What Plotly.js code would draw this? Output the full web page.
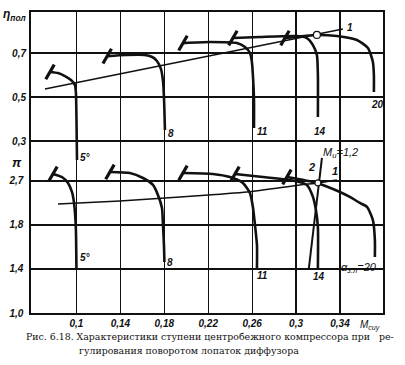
<!DOCTYPE html>
<html>
<head>
<meta charset="utf-8">
<script src="https://cdn.plot.ly/plotly-3.0.1.min.js"></script>
<style>html,body{margin:0;padding:0;background:#fff;}#chart{width:405px;height:365px;}</style>
</head>
<body>
<div id="chart"></div>
<script>
// ---- data (M_cu on x) ----
// Efficiency (eta_pol) curves, vane angles 5,8,11,14,20
const eta5_M  = [0.0759,0.0832,0.0895,0.095,0.0986,0.0995,0.1,0.1005];
const eta5_v  = [0.614,0.609,0.595,0.577,0.555,0.52,0.41,0.214];
const eta8_M  = [0.128,0.145,0.162,0.169,0.1733,0.177,0.1788,0.1797,0.1806];
const eta8_v  = [0.686,0.691,0.691,0.682,0.664,0.627,0.573,0.5,0.35];
const eta11_M = [0.197,0.2216,0.2462,0.2535,0.258,0.2598,0.2607,0.2617,0.2617];
const eta11_v = [0.745,0.75,0.745,0.727,0.7,0.659,0.6,0.486,0.359];
const eta14_M = [0.2425,0.2671,0.3008,0.3099,0.3154,0.319,0.3199,0.3199];
const eta14_v = [0.768,0.773,0.777,0.768,0.736,0.691,0.6,0.409];
const eta20_M = [0.2899,0.319,0.3372,0.3554,0.3655,0.37,0.3709,0.3709];
const eta20_v = [0.768,0.782,0.777,0.759,0.723,0.659,0.6,0.523];
const etaLine1_M = [0.0713,0.3427];
const etaLine1_v = [0.536,0.809];
const etaOp_M = [0.319];
const etaOp_v = [0.782];

// Pressure ratio (pi) curves
const pi5_M  = [0.0786,0.0868,0.0923,0.0959,0.0977,0.0986,0.0995,0.1];
const pi5_v  = [2.264,2.236,2.182,2.1,2.009,1.918,1.755,1.39];
const pi8_M  = [0.1305,0.1487,0.1606,0.1697,0.1742,0.1779,0.1788,0.1797,0.1801];
const pi8_v  = [2.282,2.273,2.227,2.164,2.073,1.955,1.8,1.618,1.464];
const pi11_M = [0.197,0.2243,0.2398,0.2516,0.258,0.2607,0.2626,0.2644,0.2644];
const pi11_v = [2.273,2.264,2.236,2.182,2.091,1.964,1.8,1.618,1.409];
const pi14_M = [0.2444,0.2699,0.2944,0.3099,0.3154,0.3181,0.3199,0.3199];
const pi14_v = [2.264,2.236,2.209,2.164,2.055,1.936,1.782,1.409];
const pi20_M = [0.2917,0.319,0.34,0.349,0.3582,0.3646,0.37,0.3718,0.3718];
const pi20_v = [2.236,2.182,2.1,2.055,2.0,1.964,1.845,1.664,1.509];
const piLine1_M = [0.0832,0.1396,0.1943,0.2553,0.3035,0.3199,0.3372];
const piLine1_v = [1.991,2.018,2.055,2.1,2.164,2.182,2.209];
const piLine2_M = [0.3236,0.3117];
const piLine2_v = [2.409,1.409];
const piOp_M = [0.3199];
const piOp_v = [2.182];

// tick labels
const xTickVals = [0.1,0.14,0.18,0.22,0.26,0.3,0.34];
const xTickText = ["0,1","0,14","0,18","0,22","0,26","0,3","0,34"];
const piTickVals = [1.0,1.4,1.8,2.2];
const piTickText = ["1,0","1,4","1,8","2,7"];
const etaTickVals = [0.3,0.5,0.7];
const etaTickText = ["0,3","0,5","0,7"];

// ---- traces ----
const ink = '#111';
const traces = [];
function curve(x, y, yaxis, w) {
  traces.push({x:x, y:y, yaxis:yaxis, type:'scatter', mode:'lines',
    line:{color:ink, width:w, shape:'spline', smoothing:0.6}, hoverinfo:'skip', showlegend:false});
}
const etaCurves = [[eta5_M,eta5_v],[eta8_M,eta8_v],[eta11_M,eta11_v],[eta14_M,eta14_v],[eta20_M,eta20_v]];
const piCurves  = [[pi5_M,pi5_v],[pi8_M,pi8_v],[pi11_M,pi11_v],[pi14_M,pi14_v],[pi20_M,pi20_v]];
etaCurves.forEach(c => curve(c[0], c[1], 'y2', 2.6));
piCurves.forEach(c => curve(c[0], c[1], 'y', 2.6));
curve(etaLine1_M, etaLine1_v, 'y2', 1.6);
curve(piLine1_M, piLine1_v, 'y', 1.6);
curve(piLine2_M, piLine2_v, 'y', 2.0);

// surge-limit hatch marks at the start of each curve
const hatch = {symbol:'line-ne', size:12, angle:-15, line:{color:ink, width:3.2}};
traces.push({x: etaCurves.map(c=>c[0][0]), y: etaCurves.map(c=>c[1][0]), yaxis:'y2',
  type:'scatter', mode:'markers', hoverinfo:'skip', showlegend:false, marker:hatch});
traces.push({x: piCurves.map(c=>c[0][0]), y: piCurves.map(c=>c[1][0]), yaxis:'y',
  type:'scatter', mode:'markers', hoverinfo:'skip', showlegend:false, marker:hatch});
// operating points
traces.push({x: etaOp_M, y: etaOp_v, yaxis:'y2', type:'scatter', mode:'markers', hoverinfo:'skip', showlegend:false,
  marker:{symbol:'circle', size:7, color:'#fff', line:{color:ink, width:1.2}}});
traces.push({x: piOp_M, y: piOp_v, yaxis:'y', type:'scatter', mode:'markers', hoverinfo:'skip', showlegend:false,
  marker:{symbol:'circle', size:6, color:'#fff', line:{color:ink, width:1.2}}});

// ---- layout ----
const tf = {family:'Liberation Sans, Arial, sans-serif', size:10, color:ink, style:'italic', weight:'bold'};
function lab(text, x, y, yref, opts) {
  return Object.assign({text:text, x:x, y:y, xref:'x', yref:yref, showarrow:false,
    font:Object.assign({}, tf, {size:10}), xanchor:'left', yanchor:'middle'}, opts||{});
}
const capFont = {family:'DejaVu Serif', size:9.4, color:ink};
const annotations = [
  lab('5°', 0.1015, 0.226, 'y2'),
  lab('8', 0.1815, 0.336, 'y2'),
  lab('11', 0.2625, 0.345, 'y2'),
  lab('14', 0.3145, 0.345, 'y2'),
  lab('20', 0.3665, 0.468, 'y2'),
  lab('1', 0.3445, 0.815, 'y2'),
  lab('M<sub>u</sub>=1,2', 0.3225, 2.45, 'y', {font:Object.assign({}, tf, {size:11, weight:'normal'})}),
  lab('2', 0.3095, 2.33, 'y', {font:Object.assign({}, tf, {size:11})}),
  lab('1', 0.3305, 2.29, 'y', {font:Object.assign({}, tf, {size:11})}),
  lab('5°', 0.1015, 1.5, 'y'),
  lab('8', 0.181, 1.46, 'y'),
  lab('11', 0.2625, 1.34, 'y'),
  lab('14', 0.3135, 1.33, 'y'),
  lab('α<sub>з.л</sub>=20', 0.3395, 1.41, 'y', {font:Object.assign({}, tf, {size:11, weight:'normal'})}),
  {text:'η<sub>пол</sub>', xref:'paper', yref:'paper', x:-0.005, y:0.99, xanchor:'right', yanchor:'middle',
   showarrow:false, font:Object.assign({}, tf, {size:12})},
  {text:'π', xref:'paper', yref:'paper', x:-0.02, y:0.5, xanchor:'right', yanchor:'middle',
   showarrow:false, font:Object.assign({}, tf, {size:13})},
  {text:'M<sub>сиу</sub>', xref:'paper', yref:'paper', x:0.93, y:-0.012, xanchor:'left', yanchor:'top',
   showarrow:false, font:Object.assign({}, tf, {weight:'normal'})},
  {text:'Рис. 6.18. Характеристики ступени центробежного компрессора при   ре-', xref:'paper', yref:'paper',
   x:0.509, y:-0.078, xanchor:'center', yanchor:'middle', showarrow:false, font:capFont},
  {text:'гулирования поворотом лопаток диффузора', xref:'paper', yref:'paper',
   x:0.449, y:-0.124, xanchor:'center', yanchor:'middle', showarrow:false, font:capFont}
];

const layout = {
  width:405, height:365,
  margin:{l:31, r:22, t:12, b:52, pad:0},
  paper_bgcolor:'#fff', plot_bgcolor:'#fff',
  showlegend:false,
  xaxis:{range:[0.0586,0.3792], tickmode:'array', tickvals:xTickVals, ticktext:xTickText,
    showgrid:true, gridcolor:ink, gridwidth:1.2, zeroline:false,
    showline:true, mirror:true, linecolor:ink, linewidth:1.6, ticks:'', tickfont:tf, ticklabelstandoff:0},
  yaxis:{range:[1.0,3.736], tickmode:'array', tickvals:piTickVals, ticktext:piTickText,
    showgrid:true, gridcolor:ink, gridwidth:1.2, zeroline:false,
    showline:true, mirror:true, linecolor:ink, linewidth:1.6, ticks:'', tickfont:tf, ticklabelstandoff:4},
  yaxis2:{range:[-0.4818,0.8864], overlaying:'y', side:'left', anchor:'x',
    tickmode:'array', tickvals:etaTickVals, ticktext:etaTickText,
    showgrid:true, gridcolor:ink, gridwidth:1.2, zeroline:false, showline:false,
    ticks:'', tickfont:tf, ticklabelstandoff:4},
  annotations:annotations
};

Plotly.newPlot('chart', traces, layout, {staticPlot:true, displayModeBar:false});
</script>
</body>
</html>
